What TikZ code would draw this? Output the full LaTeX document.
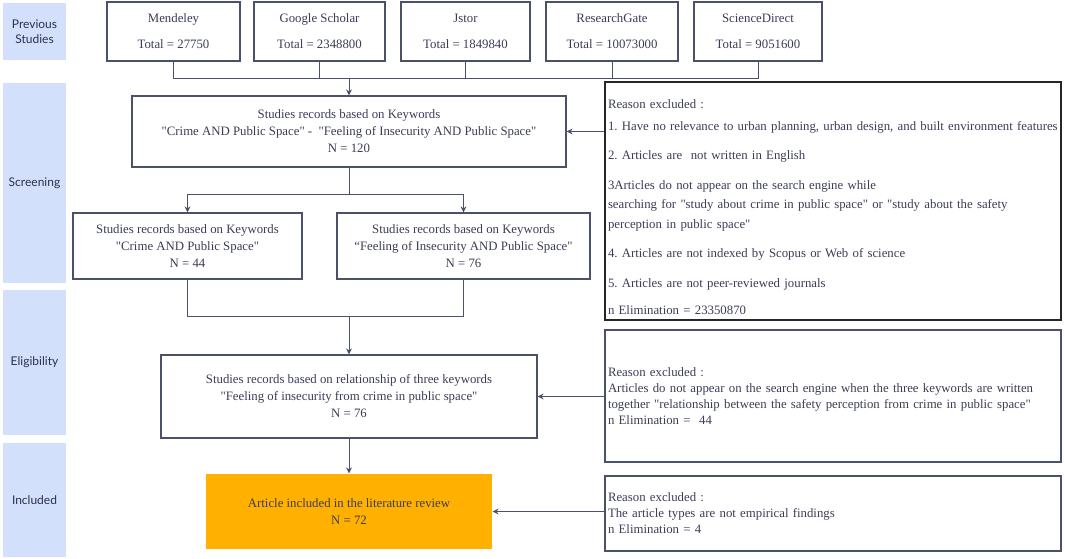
\documentclass[tikz,border=0pt]{standalone}
\usepackage{fontspec}
\setmainfont{Liberation Serif}[Ligatures=TeXOff]
\newfontfamily\stagefont{Lato}
\usetikzlibrary{arrows.meta}
\definecolor{stagebg}{HTML}{D3E0FB}
\definecolor{edgec}{HTML}{4B5169}
\definecolor{txtc}{HTML}{3A3D55}
\definecolor{inclc}{HTML}{FFB000}
\definecolor{stagetxt}{HTML}{2C3150}
\frenchspacing
\tikzset{
  stage/.style={fill=stagebg, draw=none, font=\stagefont\fontsize{12}{15}\selectfont, text=stagetxt, align=center, inner sep=0pt},
  box/.style={draw=edgec, line width=1.2pt, fill=white, align=center, inner sep=0pt, text=txtc, font=\fontsize{12.8}{17}\selectfont},
  incbox/.style={box, fill=inclc, draw=none},
  reason/.style={draw=edgec, line width=1.2pt, align=left, text width=450pt, inner xsep=3pt, inner ysep=0pt, text=txtc, font=\fontsize{12.8}{16}\selectfont},
  conn/.style={draw=edgec, line width=0.9pt},
  arr/.style={conn, -{Stealth[length=6pt,width=6pt]}},
}
\begin{document}
\begin{tikzpicture}[x=1pt,y=-1pt]
\useasboundingbox (0,0) rectangle (1065,559);
% stage bars
\node[stage, minimum width=63pt, minimum height=57pt] (s1) at (34.5,31.5) {Previous\\Studies};
\node[stage, minimum width=63pt, minimum height=200pt] (s2) at (34.5,183) {Screening};
\node[stage, minimum width=63pt, minimum height=145pt] (s3) at (34.5,362.5) {Eligibility};
\node[stage, minimum width=63pt, minimum height=114pt] (s4) at (34.5,500) {Included};
% sources
\node[box, minimum width=133pt, minimum height=59pt] (m) at (173.5,31.5) {Mendeley\\[9pt]Total = 27750};
\node[box, minimum width=131pt, minimum height=59pt] (g) at (319.5,31.5) {Google Scholar\\[9pt]Total = 2348800};
\node[box, minimum width=129pt, minimum height=59pt] (j) at (465.5,31.5) {Jstor\\[9pt]Total = 1849840};
\node[box, minimum width=132pt, minimum height=59pt] (r) at (612,31.5) {ResearchGate\\[9pt]Total = 10073000};
\node[box, minimum width=128pt, minimum height=59pt] (sd) at (758,31.5) {ScienceDirect\\[9pt]Total = 9051600};
% screening
\node[box, minimum width=434pt, minimum height=71pt] (a) at (349,131.5) {Studies records based on Keywords\\"Crime AND Public Space" -\ \ "Feeling of Insecurity AND Public Space"\\N = 120};
\node[box, minimum width=229pt, minimum height=66pt] (b1) at (187.5,246) {Studies records based on Keywords\\"Crime AND Public Space"\\N = 44};
\node[box, minimum width=253pt, minimum height=66pt] (b2) at (463.5,246) {Studies records based on Keywords\\“Feeling of Insecurity AND Public Space"\\N = 76};
% eligibility
\node[box, minimum width=376pt, minimum height=83pt] (e) at (349,396.5) {Studies records based on relationship of three keywords\\"Feeling of insecurity from crime in public space"\\N = 76};
% included
\node[incbox, minimum width=286pt, minimum height=75pt] (f) at (349,511.5) {Article included in the literature review\\N = 72};
% reasons
\node[reason, draw=black!85, line width=1.6pt, minimum height=238pt] (R1) at (833,201) {%
\fontsize{12.8}{19.5}\selectfont
\rule{0pt}{21pt}Reason excluded :\\[2.5pt]
1. Have no relevance to urban planning, urban design, and built environment features\\[10pt]
2. Articles are\ \ not written in English\\[10pt]
3Articles do not appear on the search engine while\\
searching for "study about crime in public space" or "study about the safety\\
perception in public space"\\[10pt]
4. Articles are not indexed by Scopus or Web of science\\[10pt]
5. Articles are not peer-reviewed journals\\[11pt]
n Elimination = 23350870};
\node[reason, minimum height=132pt] (R2) at (833,396) {Reason excluded :\\
Articles do not appear on the search engine when the three keywords are written\\
together "relationship between the safety perception from crime in public space"\\
n Elimination =\ \ 44};
\node[reason, minimum height=75pt] (R3) at (833,513.5) {Reason excluded :\\
The article types are not empirical findings\\
n Elimination = 4};
% connectors
\coordinate (jt) at (349,78);
\draw[conn] (m.south) |- (sd.south |- jt) -- (sd.south);
\draw[conn] (g.south) -- (g.south |- jt);
\draw[conn] (j.south) -- (j.south |- jt);
\draw[conn] (r.south) -- (r.south |- jt);
\draw[arr] (jt) -- (a.north);
\coordinate (split) at (349,194);
\draw[conn] (a.south) -- (split);
\draw[arr] (split) -| (b1.north);
\draw[arr] (split) -| (b2.north);
\coordinate (merge) at (349,316);
\draw[conn] (b1.south) |- (merge);
\draw[conn] (b2.south) |- (merge);
\draw[arr] (merge) -- (e.north);
\draw[arr] (e.south) -- (f.north);
\draw[arr] (R1.west |- a.east) -- (a.east);
\draw[arr] (R2.west |- e.east) -- (e.east);
\draw[arr] (R3.west |- f.east) -- (f.east);
\end{tikzpicture}
\end{document}
